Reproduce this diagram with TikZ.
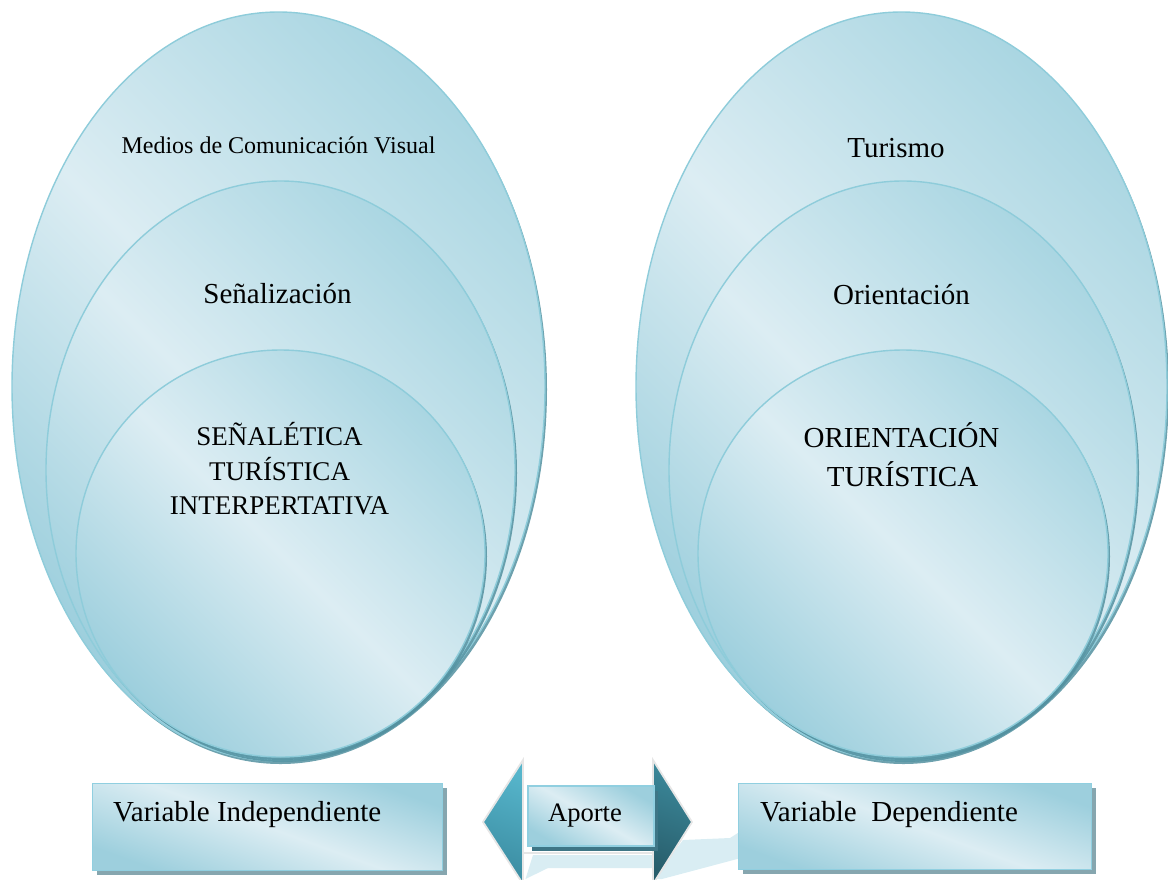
\documentclass[tikz,border=0pt]{standalone}
\usepackage{fontspec}
\setmainfont{Liberation Serif}
\usetikzlibrary{shapes.geometric,shadows}
\definecolor{cdark}{HTML}{9DCFDD}
\definecolor{clight}{HTML}{DCEDF3}
\definecolor{cmid}{HTML}{AAD6E2}
\definecolor{bord}{HTML}{8ECCDA}
\definecolor{eshadow}{HTML}{5391A0}
\definecolor{boxbord}{HTML}{90CFE0}
\definecolor{boxshadow}{HTML}{86A6AF}
\definecolor{apshadow}{HTML}{3E7686}
\definecolor{headA1}{HTML}{56B5CB}
\definecolor{headA2}{HTML}{3B8CA1}
\definecolor{headB1}{HTML}{3C899B}
\definecolor{headB2}{HTML}{285D6B}
\definecolor{pale}{HTML}{D9EDF3}
\definecolor{outl}{HTML}{E6E6E6}
\begin{document}
\begin{tikzpicture}[x=1pt,y=-1pt,
  bubble/.style={ellipse, draw=bord, line width=1.4pt, inner sep=0pt,
    top color=cmid, bottom color=cdark, middle color=clight, shading angle=-45,
    drop shadow={shadow xshift=2pt, shadow yshift=-3pt, fill=eshadow, opacity=0.85}},
  vbox/.style={rectangle, draw=boxbord, line width=1.8pt, inner sep=0pt, anchor=north west,
    top color=cdark, bottom color=cdark, middle color=clight, shading angle=-20,
    drop shadow={shadow xshift=5pt, shadow yshift=-5pt, fill=boxshadow, opacity=1}},
  apbox/.style={rectangle, draw=boxbord, line width=1.8pt, inner sep=0pt, anchor=north west,
    top color=cdark, bottom color=cdark, middle color=clight, shading angle=-30,
    drop shadow={shadow xshift=4pt, shadow yshift=-5pt, fill=apshadow, opacity=1}},
  txt/.style={inner sep=0pt, anchor=base, text=black},
  txtl/.style={inner sep=0pt, anchor=base west, text=black},
]
\useasboundingbox (0,0) rectangle (1168,879);

% ---- left bubbles
\node[bubble, minimum width=533pt, minimum height=749pt] (Lout) at (278.5,386.5) {};
\node[bubble, minimum width=469pt, minimum height=578pt] (Lmid) at (280.5,470) {};
\node[bubble, minimum width=409pt, minimum height=407pt] (Lin) at (280.5,553.5) {};

% ---- right bubbles
\node[bubble, minimum width=531pt, minimum height=749pt] (Rout) at (901.5,386.5) {};
\node[bubble, minimum width=468pt, minimum height=578pt] (Rmid) at (903,470) {};
\node[bubble, minimum width=410pt, minimum height=407pt] (Rin) at (903,553.5) {};

% ---- texts in bubbles
\node[txt, font=\fontsize{24}{28}\selectfont] (tL1) at (278.5,153) {Medios de Comunicación Visual};
\node[txt, font=\fontsize{29}{34}\selectfont] (tL2) at (277.5,303.5) {Señalización};
\node[txt, font=\fontsize{27}{32}\selectfont] (tL3a) at (279.5,445.5) {SEÑALÉTICA};
\node[txt, font=\fontsize{27}{32}\selectfont] (tL3b) at (279.5,480) {TURÍSTICA};
\node[txt, font=\fontsize{27}{32}\selectfont] (tL3c) at (279.5,514.5) {INTERPERTATIVA};

\node[txt, font=\fontsize{29}{34}\selectfont] (tR1) at (896,157) {Turismo};
\node[txt, font=\fontsize{29}{34}\selectfont] (tR2) at (901.5,304) {Orientación};
\node[txt, font=\fontsize{29}{34}\selectfont] (tR3a) at (901.5,447) {ORIENTACIÓN};
\node[txt, font=\fontsize{29}{34}\selectfont] (tR3b) at (902.5,486) {TURÍSTICA};

% ---- double arrow (pale extrusion, shaft, heads)
\fill[pale] (653,879) -- (683,840) -- (730,838) -- (741,831) -- (741,858) -- (662,879) -- cycle;
\path[draw=outl, line width=1.6pt, fill=white] (523,853) rectangle (653,884);
\fill[pale] (525.5,879) -- (533,855) -- (652,855) -- (652,868) -- (548,868) -- cycle;
\path[draw=outl, line width=1.8pt, top color=headA1, bottom color=headA2, shading angle=-20]
  (523,760) -- (483,822) -- (523,884) -- cycle;
\path[draw=outl, line width=1.8pt, top color=headB1, bottom color=headB2, shading angle=-20]
  (653,760) -- (692,822) -- (653,884) -- cycle;

% ---- boxes
\node[vbox, minimum width=350pt, minimum height=87pt] (bL) at (91.5,782.5) {};
\node[vbox, minimum width=353pt, minimum height=86pt] (bR) at (737.5,782.5) {};
\node[apbox, minimum width=126pt, minimum height=60pt] (bA) at (527,785) {};

\node[txtl, font=\fontsize{29}{34}\selectfont] (tVI) at (113,821) {Variable Independiente};
\node[txtl, font=\fontsize{29}{34}\selectfont] (tVD) at (760,821) {Variable~ Dependiente};
\node[txt, font=\fontsize{26.6}{31}\selectfont] (tAp) at (585,821) {Aporte};
\end{tikzpicture}
\end{document}
